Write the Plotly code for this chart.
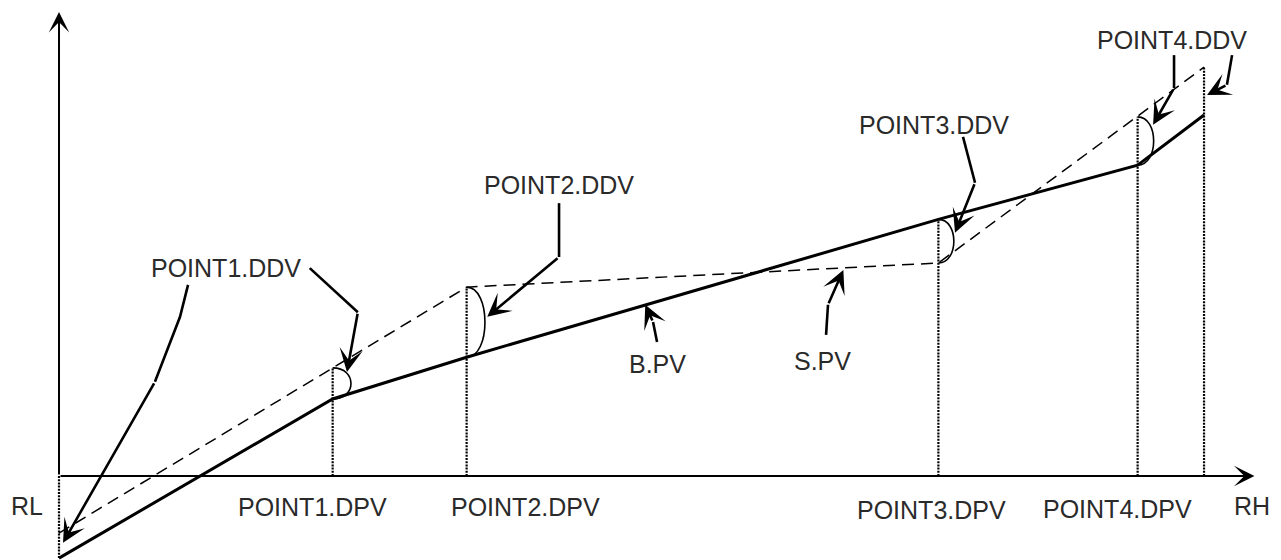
import plotly.graph_objects as go

# x: RL = 0 .. RH = 100, y: 0 at the x axis
rl, rh = 0.0, 100.0
dpv = [23.9, 35.6, 76.8, 94.2]
dpv_names = ["POINT1.DPV", "POINT2.DPV", "POINT3.DPV", "POINT4.DPV"]

# B.PV = bent (solid) line, S.PV = straight (dashed) line
bpv_y = [-17.7, 16.6, 25.6, 55.3, 67.0, 77.8]
spv_y = [-12.3, 23.3, 40.7, 45.9, 77.4, 88.1]

# leader lines: (label, path points..., tip)
pointers = [
    ("POINT1.DDV", [(11.27, 41.2), (10.57, 34.3), (8.38, 20.3)], (0.35, -14.4)),
    ("POINT1.DDV", [(21.9, 44.8), (26.1, 35.3)], (25.15, 22.4)),
    ("POINT2.DDV", [(43.67, 58.8), (43.67, 47.2)], (37.4, 34.3)),
    ("B.PV", [(52.23, 28.9), (51.88, 33.2)], (51.2, 36.9)),
    ("S.PV", [(66.99, 30.4), (67.16, 36.9)], (68.5, 44.4)),
    ("POINT3.DDV", [(78.95, 73.1), (80.0, 63.2)], (78.25, 52.4)),
    ("POINT4.DDV", [(97.38, 90.7), (97.38, 83.6)], (95.55, 75.7)),
    ("POINT4.DDV", [(102.45, 90.7), (102.0, 84.3)], (100.26, 82.1)),
]

xs = [rl] + dpv + [rh]

fig = go.Figure()

# dotted verticals
vx, vy = [rl, rl, None], [0, min(bpv_y[0], spv_y[0]), None]
for i in range(1, len(xs)):
    vx += [xs[i], xs[i], None]
    vy += [0, max(bpv_y[i], spv_y[i]), None]
fig.add_trace(go.Scatter(x=vx, y=vy, mode="lines",
                         line=dict(color="black", width=2.2, dash="2px,1.2px")))

fig.add_trace(go.Scatter(x=xs, y=spv_y, mode="lines",
                         line=dict(color="black", width=1.5, dash="12px,7px")))
fig.add_trace(go.Scatter(x=xs, y=bpv_y, mode="lines",
                         line=dict(color="black", width=3)))

# DDV arcs between the two lines at each point
for i, bulge in zip(range(1, 5), [1.6, 1.6, 1.35, 1.4]):
    x0, y1, y2 = xs[i], spv_y[i], bpv_y[i]
    k = bulge / 0.75
    fig.add_shape(type="path", xref="x", yref="y",
                  path=f"M {x0},{y1} C {x0 + k},{y1} {x0 + k},{y2} {x0},{y2}",
                  line=dict(color="black", width=1.6))

# leader lines
for name, pts, tip in pointers:
    fig.add_trace(go.Scatter(x=[p[0] for p in pts], y=[p[1] for p in pts], mode="lines",
                             line=dict(color="black", width=2.6)))
    fig.add_annotation(x=tip[0], y=tip[1], ax=pts[-1][0], ay=pts[-1][1],
                       xref="x", yref="y", axref="x", ayref="y", text="",
                       showarrow=True, arrowhead=3, arrowsize=1.5, arrowwidth=2.6,
                       arrowcolor="black", standoff=0)

# axes
fig.add_annotation(x=104.4, y=0, ax=rl, ay=0, xref="x", yref="y", axref="x", ayref="y",
                   text="", showarrow=True, arrowhead=3, arrowsize=1.7, arrowwidth=2,
                   arrowcolor="black", standoff=0)
fig.add_annotation(x=rl, y=100, ax=rl, ay=0, xref="x", yref="y", axref="x", ayref="y",
                   text="", showarrow=True, arrowhead=3, arrowsize=1.7, arrowwidth=2,
                   arrowcolor="black", standoff=0)

font = dict(family="Liberation Sans", size=25, color="#2a2a2a")
labels = [
    ("RL", -2.79, -6.5), ("RH", 104.19, -6.5),
    (dpv_names[0], 22.1, -6.7), (dpv_names[1], 40.7, -6.7),
    (dpv_names[2], 76.24, -7.3), (dpv_names[3], 92.4, -7.1),
    ("POINT1.DDV", 14.59, 44.8), ("POINT2.DDV", 43.67, 62.7),
    ("B.PV", 52.3, 24.1), ("S.PV", 66.7, 24.8),
    ("POINT3.DDV", 76.4, 75.6), ("POINT4.DDV", 97.2, 94.0),
]
for t, x, y in labels:
    fig.add_annotation(x=x, y=y, text=t, showarrow=False, font=font,
                       xanchor="center", yanchor="middle")

# page body adds an 8px offset, so ranges are shifted to compensate
fig.update_layout(
    width=1281, height=560, margin=dict(l=0, r=0, t=0, b=0),
    plot_bgcolor="white", paper_bgcolor="white", showlegend=False,
    xaxis=dict(range=[-4.454, 107.42], visible=False),
    yaxis=dict(range=[-19.83, 100.86], visible=False),
)

fig.write_html("out.html")
